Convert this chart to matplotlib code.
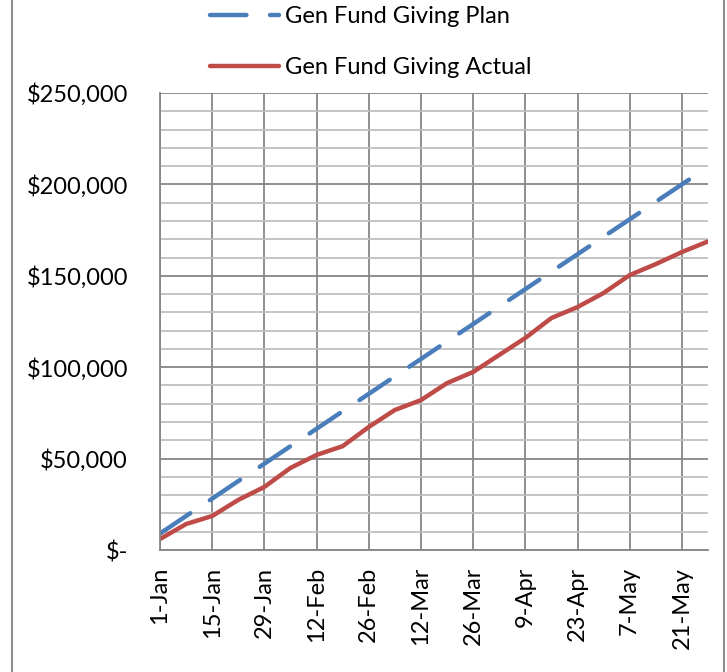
import matplotlib
matplotlib.use("Agg")
import matplotlib.pyplot as plt
from matplotlib.lines import Line2D
from matplotlib.ticker import MultipleLocator, FuncFormatter

plt.rcParams['font.family'] = ['Lato', 'DejaVu Sans']

# weekly dates, 1-Jan .. 28-May
weeks = ['1-Jan', '8-Jan', '15-Jan', '22-Jan', '29-Jan', '5-Feb', '12-Feb', '19-Feb',
         '26-Feb', '5-Mar', '12-Mar', '19-Mar', '26-Mar', '2-Apr', '9-Apr', '16-Apr',
         '23-Apr', '30-Apr', '7-May', '14-May', '21-May', '28-May']

plan = [9000, 18600, 28100, 37700, 47200, 56800, 66300, 75900, 85400, 95000, 104500,
        114100, 123600, 133200, 142700, 152300, 161800, 171400, 180900, 190500, 200000, 209500]

actual = [6000, 14200, 18600, 27400, 34500, 44900, 52000, 56800, 67300, 76600, 82000,
          91300, 97400, 106700, 116000, 126900, 132900, 140600, 150400, 156400, 163000, 168800]

plan_color = '#4A7EBB'
actual_color = '#BE4B48'
major_grid = '#868686'
minor_grid = '#BFBFBF'

fig = plt.figure(figsize=(7.27, 6.72), dpi=100)
ax = fig.add_axes([160 / 727, 1 - 550 / 672, 548 / 727, 457 / 672])

x = list(range(len(weeks)))
ax.plot(x, plan, color=plan_color, lw=3.2, dashes=(8.2, 5.3),
        dash_capstyle='round', solid_capstyle='round', label='Gen Fund Giving Plan')
ax.plot(x, actual, color=actual_color, lw=3.2, solid_capstyle='round',
        label='Gen Fund Giving Actual')

ax.set_xlim(0, len(weeks) - 1)
ax.set_ylim(0, 250000)

ax.set_xticks(x[::2])
ax.set_xticklabels(weeks[::2], rotation=90, fontsize=17)

ax.yaxis.set_major_locator(MultipleLocator(50000))
ax.yaxis.set_minor_locator(MultipleLocator(10000))
ax.yaxis.set_major_formatter(FuncFormatter(lambda v, p: '$-' if v == 0 else f'${v:,.0f}'))
ax.tick_params(axis='y', labelsize=17, length=0, pad=23, which='both')
ax.tick_params(axis='x', length=0, pad=12)

ax.grid(axis='y', which='minor', color=minor_grid, lw=1.3)
ax.grid(axis='y', which='major', color=major_grid, lw=1.3)
ax.grid(axis='x', which='major', color=major_grid, lw=1.3)
ax.set_axisbelow(True)

for side in ['top', 'right']:
    ax.spines[side].set_visible(False)
for side in ['left', 'bottom']:
    ax.spines[side].set_color(major_grid)
    ax.spines[side].set_linewidth(1.3)

fig.legend(loc='upper left', bbox_to_anchor=(208 / 727, 1 - 4 / 672), frameon=False,
           fontsize=17, handlelength=2.9, handletextpad=0.25, labelspacing=1.25,
           borderaxespad=0.0, borderpad=0.1)

# outer chart frame (left and right edges only visible)
fig.add_artist(Line2D([12 / 727, 12 / 727], [0, 1], color='#8C8C8C', lw=1.5))
fig.add_artist(Line2D([724 / 727, 724 / 727], [0, 1], color='#8C8C8C', lw=1.5))

fig.savefig('out.png', dpi=100)
